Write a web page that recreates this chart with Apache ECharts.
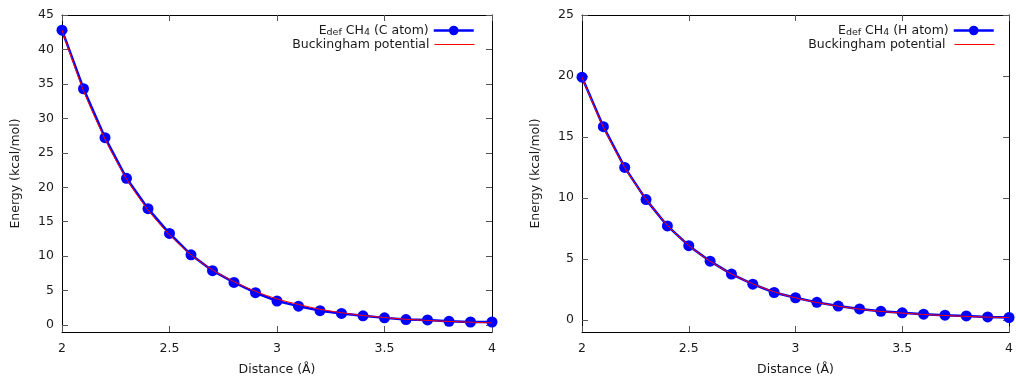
<!DOCTYPE html>
<html>
<head>
<meta charset="utf-8">
<script src="https://cdn.jsdelivr.net/npm/echarts@6/dist/echarts.min.js"></script>
<style>
  html, body { margin: 0; padding: 0; background: #fff; }
  #chart { width: 1016px; height: 381px; }
</style>
</head>
<body>
<div id="chart"></div>
<script>
// distances (Å) shared by both panels
const distance = [2.0, 2.1, 2.2, 2.3, 2.4, 2.5, 2.6, 2.7, 2.8, 2.9, 3.0,
                  3.1, 3.2, 3.3, 3.4, 3.5, 3.6, 3.7, 3.8, 3.9, 4.0]

// left panel: C atom
const cAtomDef  = [42.8, 34.3, 27.2, 21.3, 16.9, 13.3, 10.2, 7.9, 6.2, 4.7, 3.5,
                   2.75, 2.1, 1.7, 1.35, 1.05, 0.8, 0.75, 0.55, 0.45, 0.45]
const cAtomBuck = [42.8, 34.0, 27.0, 21.2, 16.7, 13.1, 10.2, 8.0, 6.3, 4.9, 3.8,
                   3.0, 2.3, 1.8, 1.4, 1.1, 0.85, 0.68, 0.53, 0.42, 0.33]

// right panel: H atom
const hAtomDef  = [19.9, 15.84, 12.5, 9.86, 7.7, 6.08, 4.81, 3.75, 2.92, 2.24, 1.81,
                   1.43, 1.13, 0.89, 0.7, 0.57, 0.46, 0.38, 0.32, 0.24, 0.19]
const hAtomBuck = [19.9, 15.8, 12.5, 9.9, 7.75, 6.1, 4.8, 3.77, 2.95, 2.3, 1.8,
                   1.42, 1.12, 0.88, 0.69, 0.55, 0.44, 0.35, 0.28, 0.22, 0.18]

const xTicks = [2, 2.5, 3, 3.5, 4]
const yTicksLeft = [0, 5, 10, 15, 20, 25, 30, 35, 40, 45]
const yTicksRight = [0, 5, 10, 15, 20, 25]

const FONT = 'DejaVu Sans'
const FS = 12.5
const TXT = '#1a1a1a'
const pairs = (ys) => distance.map((d, i) => [d, ys[i]])

const tick = { show: true, inside: true, length: 6, lineStyle: { color: '#555', width: 1 } }
const line = { show: true, onZero: false, lineStyle: { color: '#000', width: 1 } }

function xAxes(gridIndex) {
    return [
        {
            gridIndex, type: 'value', min: 2, max: 4, position: 'bottom',
            name: 'Distance (Å)', nameLocation: 'middle', nameGap: 31,
            nameTextStyle: { fontFamily: FONT, fontSize: FS, color: TXT },
            axisLine: line,
            axisTick: { ...tick, customValues: xTicks },
            axisLabel: { customValues: xTicks, fontFamily: FONT, fontSize: FS, color: TXT, margin: 10 },
            splitLine: { show: false }
        },
        {
            gridIndex, type: 'value', min: 2, max: 4, position: 'top',
            axisLine: line,
            axisTick: { ...tick, customValues: xTicks },
            axisLabel: { show: false },
            splitLine: { show: false }
        }
    ]
}

function yAxes(gridIndex, max, ticks) {
    return [
        {
            gridIndex, type: 'value', min: -1, max, position: 'left',
            name: 'Energy (kcal/mol)', nameLocation: 'middle', nameGap: 40,
            nameTextStyle: { fontFamily: FONT, fontSize: FS, color: TXT },
            axisLine: line,
            axisTick: { ...tick, customValues: ticks },
            axisLabel: { customValues: ticks, fontFamily: FONT, fontSize: FS, color: TXT, margin: 8 },
            splitLine: { show: false }
        },
        {
            gridIndex, type: 'value', min: -1, max, position: 'right',
            axisLine: line,
            axisTick: { ...tick, customValues: ticks },
            axisLabel: { show: false },
            splitLine: { show: false }
        }
    ]
}

const rich = {
    n: { fontFamily: FONT, fontSize: FS, color: TXT },
    sub: { fontFamily: FONT, fontSize: 9.5, color: TXT, verticalAlign: 'bottom', padding: [5, 0, 0, 0] }
}

function legendPair(name1, name2, right) {
    return [
        {
            data: [name1], right, top: 24, orient: 'vertical', align: 'right',
            itemWidth: 40, itemHeight: 12, itemGap: 6, padding: 0,
            lineStyle: { width: 2.5 },
            textStyle: { fontFamily: FONT, fontSize: FS, color: TXT, rich },
            formatter: (n) => n
        },
        {
            data: [name2], right, top: 38, orient: 'vertical', align: 'right',
            itemWidth: 40, itemHeight: 12, itemGap: 6, padding: 0,
            itemStyle: { opacity: 0 },
            lineStyle: { width: 1 },
            textStyle: { fontFamily: FONT, fontSize: FS, color: TXT }
        }
    ]
}

const defC = '{n|E}{sub|def}{n| CH}{sub|4}{n| (C atom)}'
const defH = '{n|E}{sub|def}{n| CH}{sub|4}{n| (H atom)}'

const defSeries = (name, xi, yi, ys) => ({
    name, type: 'line', xAxisIndex: xi, yAxisIndex: yi, data: pairs(ys),
    symbol: 'circle', symbolSize: 11, showSymbol: true,
    lineStyle: { color: '#0000ff', width: 2.5 },
    itemStyle: { color: '#0000ff' },
    z: 2, animation: false
})
const buckSeries = (name, xi, yi, ys) => ({
    name, type: 'line', xAxisIndex: xi, yAxisIndex: yi, data: pairs(ys),
    symbol: 'none', smooth: 0.3,
    lineStyle: { color: '#ff0000', width: 1 },
    itemStyle: { color: '#ff0000' },
    z: 3, animation: false
})

const chart = echarts.init(document.getElementById('chart'), null, { renderer: 'canvas' })
chart.setOption({
    backgroundColor: '#fff',
    animation: false,
    grid: [
        { left: 62, top: 15, width: 430, height: 320 },
        { left: 582, top: 15, width: 428, height: 320 }
    ],
    xAxis: [...xAxes(0), ...xAxes(1)],
    yAxis: [...yAxes(0, 45, yTicksLeft), ...yAxes(1, 25, yTicksRight)],
    legend: [
        ...legendPair(defC, 'Buckingham potential', 541),
        ...legendPair(defH, 'Buckingham potential ', 21)
    ],
    series: [
        defSeries(defC, 0, 0, cAtomDef),
        buckSeries('Buckingham potential', 0, 0, cAtomBuck),
        defSeries(defH, 2, 2, hAtomDef),
        buckSeries('Buckingham potential ', 2, 2, hAtomBuck)
    ]
})
</script>
</body>
</html>
